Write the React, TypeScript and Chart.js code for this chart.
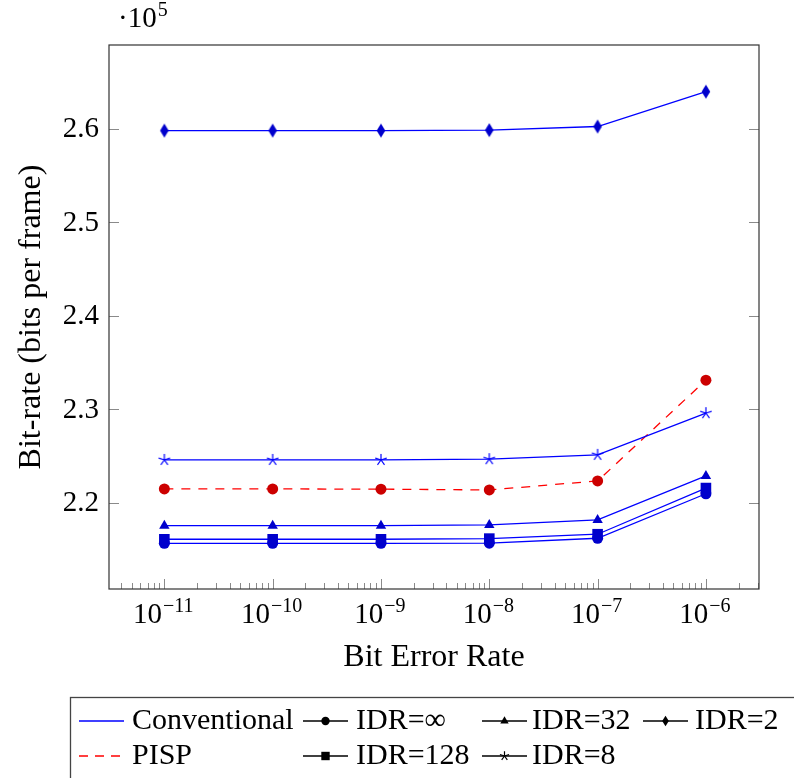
import React, { useEffect, useRef } from 'react';
import { Chart, registerables } from 'chart.js';

Chart.register(...registerables);

// ---------- data ----------
const ber = [1e-11, 1e-10, 1e-9, 1e-8, 1e-7, 1e-6];
const idrInf = [215650, 215650, 215650, 215660, 216190, 220950];
const idr128 = [216080, 216080, 216080, 216150, 216620, 221560];
const idr32 = [217540, 217540, 217540, 217610, 218150, 222860];
const idr8 = [224570, 224570, 224570, 224650, 225110, 229570];
const idr2 = [259800, 259800, 259800, 259850, 260240, 263970];
const pisp = [221470, 221470, 221440, 221360, 222320, 233100];

const xTickExponents = [-11, -10, -9, -8, -7, -6];
const xMinorMultipliers = [2, 3, 4, 5, 6, 7, 8, 9];
const yTickValues = [220000, 230000, 240000, 250000, 260000];
const yTickLabels = ['2.2', '2.3', '2.4', '2.5', '2.6'];
const yScaleExponent = '5';

const xTitle = 'Bit Error Rate';
const yTitle = 'Bit-rate (bits per frame)';

const legendRow1 = ['Conventional', 'IDR=∞', 'IDR=32', 'IDR=2'];
const legendRow2 = ['PISP', 'IDR=128', 'IDR=8'];

// ---------- styling ----------
const FONT = '"Liberation Serif", "Times New Roman", serif';
const BLUE = '#0000ff';
const BLUE_MARK = '#0000cc';
const RED = '#ff0000';
const RED_MARK = '#cc0000';

type Mark = 'circle' | 'rect' | 'triangle' | 'diamond' | 'star';

function drawMark(ctx: CanvasRenderingContext2D, type: Mark, x: number, y: number, color: string, s: number) {
  ctx.save();
  ctx.fillStyle = color;
  ctx.strokeStyle = color;
  ctx.lineWidth = 1;
  ctx.beginPath();
  if (type === 'circle') {
    ctx.arc(x, y, s, 0, Math.PI * 2);
    ctx.fill();
  } else if (type === 'rect') {
    ctx.rect(x - s, y - s, 2 * s, 2 * s);
    ctx.fill();
  } else if (type === 'triangle') {
    for (let i = 0; i < 3; i++) {
      const a = -Math.PI / 2 + (i * 2 * Math.PI) / 3;
      const px = x + s * 1.1 * Math.cos(a);
      const py = y + s * 1.1 * Math.sin(a);
      if (i === 0) ctx.moveTo(px, py); else ctx.lineTo(px, py);
    }
    ctx.closePath();
    ctx.fill();
  } else if (type === 'diamond') {
    ctx.moveTo(x, y - s * 1.15);
    ctx.lineTo(x + s * 0.72, y);
    ctx.lineTo(x, y + s * 1.15);
    ctx.lineTo(x - s * 0.72, y);
    ctx.closePath();
    ctx.fill();
  } else if (type === 'star') {
    ctx.lineWidth = 1.2;
    for (let i = 0; i < 5; i++) {
      const a = -Math.PI / 2 + (i * 2 * Math.PI) / 5;
      ctx.moveTo(x, y);
      ctx.lineTo(x + s * Math.cos(a), y + s * Math.sin(a));
    }
    ctx.stroke();
  }
  ctx.restore();
}

function markCanvas(type: Mark, color: string, s: number): HTMLCanvasElement {
  const size = Math.ceil(2 * s * 1.3 + 4);
  const c = document.createElement('canvas');
  c.width = size;
  c.height = size;
  const g = c.getContext('2d')!;
  drawMark(g, type, size / 2, size / 2, color, s);
  return c;
}

function drawSupText(ctx: CanvasRenderingContext2D, prefix: string, base: string, sup: string, x: number, y: number, align: 'center' | 'left') {
  ctx.save();
  ctx.textBaseline = 'alphabetic';
  ctx.textAlign = 'left';
  ctx.font = `29px ${FONT}`;
  const wPre = ctx.measureText(prefix).width;
  const wBase = ctx.measureText(base).width;
  ctx.font = `20px ${FONT}`;
  const wSup = ctx.measureText(sup).width;
  const total = wPre + wBase + 1 + wSup;
  const x0 = align === 'center' ? x - total / 2 : x;
  ctx.font = `29px ${FONT}`;
  ctx.fillText(prefix + base, x0, y);
  ctx.font = `20px ${FONT}`;
  ctx.fillText(sup, x0 + wPre + wBase + 1, y - 11);
  ctx.restore();
}

const decorPlugin = {
  id: 'decor',
  beforeDatasetsDraw(chart: any) {
    const ctx: CanvasRenderingContext2D = chart.ctx;
    const { left, right, top, bottom } = chart.chartArea;
    const xs = chart.scales.x;
    const ys = chart.scales.y;
    ctx.save();
    ctx.strokeStyle = '#8a8a8a';
    ctx.lineWidth = 1;
    ctx.beginPath();
    // x major ticks
    xTickExponents.forEach((e) => {
      const px = Math.round(xs.getPixelForValue(Math.pow(10, e))) + 0.5;
      ctx.moveTo(px, bottom);
      ctx.lineTo(px, bottom - 10);
    });
    // x minor ticks
    for (let e = xTickExponents[0] - 1; e <= xTickExponents[xTickExponents.length - 1]; e++) {
      xMinorMultipliers.forEach((m) => {
        const v = m * Math.pow(10, e);
        if (v < xs.min || v > xs.max) return;
        const px = Math.round(xs.getPixelForValue(v)) + 0.5;
        ctx.moveTo(px, bottom);
        ctx.lineTo(px, bottom - 6);
      });
    }
    // y ticks left and right
    yTickValues.forEach((v) => {
      const py = Math.round(ys.getPixelForValue(v)) + 0.5;
      ctx.moveTo(left, py);
      ctx.lineTo(left + 10, py);
      ctx.moveTo(right, py);
      ctx.lineTo(right - 10, py);
    });
    ctx.stroke();
    ctx.restore();
  },
  afterDraw(chart: any) {
    const ctx: CanvasRenderingContext2D = chart.ctx;
    const { left, right, top, bottom } = chart.chartArea;
    const xs = chart.scales.x;
    const ys = chart.scales.y;
    ctx.save();
    // frame
    ctx.strokeStyle = '#333333';
    ctx.lineWidth = 1.2;
    ctx.strokeRect(left, top, right - left, bottom - top);

    ctx.fillStyle = '#000000';
    // y tick labels
    ctx.font = `29px ${FONT}`;
    ctx.textAlign = 'right';
    ctx.textBaseline = 'middle';
    yTickValues.forEach((v, i) => {
      ctx.fillText(yTickLabels[i], left - 10, ys.getPixelForValue(v) + 1);
    });
    // x tick labels
    xTickExponents.forEach((e) => {
      const px = xs.getPixelForValue(Math.pow(10, e));
      drawSupText(ctx, '', '10', '−' + Math.abs(e), px - 1, bottom + 34, 'center');
    });
    // scale label
    drawSupText(ctx, '·', '10', yScaleExponent, left + 9, 27, 'left');

    // axis titles
    ctx.font = `32px ${FONT}`;
    ctx.textAlign = 'center';
    ctx.textBaseline = 'alphabetic';
    ctx.fillText(xTitle, (left + right) / 2, bottom + 77);
    ctx.save();
    ctx.translate(40, (top + bottom) / 2);
    ctx.rotate(-Math.PI / 2);
    ctx.fillText(yTitle, 0, 0);
    ctx.restore();

    // legend
    const boxL = 70.5;
    const boxT = 697.5;
    ctx.strokeStyle = '#444444';
    ctx.lineWidth = 1.3;
    ctx.strokeRect(boxL, boxT, 800, 200);

    const colLine = [79, 303, 482, 643];
    const colText = [132, 356, 532, 695];
    const rowBase = [729, 764];
    const rowMid = [721, 756];
    const row1Marks: (Mark | null)[] = [null, 'circle', 'triangle', 'diamond'];
    const row2Marks: (Mark | null)[] = [null, 'rect', 'star'];
    const markSizes: Record<string, number> = { circle: 4.2, rect: 4.2, triangle: 4.4, diamond: 4.6, star: 4.8 };

    const drawEntry = (col: number, row: number, label: string, mark: Mark | null) => {
      const y = rowMid[row];
      const x0 = colLine[col];
      const x1 = x0 + 45;
      ctx.save();
      ctx.lineWidth = 1.3;
      if (col === 0 && row === 0) {
        ctx.strokeStyle = BLUE;
      } else if (col === 0 && row === 1) {
        ctx.strokeStyle = RED;
        ctx.setLineDash([9, 7]);
      } else {
        ctx.strokeStyle = '#000000';
      }
      ctx.beginPath();
      ctx.moveTo(x0, y);
      ctx.lineTo(x1, y);
      ctx.stroke();
      ctx.restore();
      if (mark) drawMark(ctx, mark, (x0 + x1) / 2, y, '#000000', markSizes[mark]);
      ctx.fillStyle = '#000000';
      ctx.font = `30px ${FONT}`;
      ctx.textAlign = 'left';
      ctx.textBaseline = 'alphabetic';
      ctx.fillText(label, colText[col], rowBase[row]);
    };
    legendRow1.forEach((l, i) => drawEntry(i, 0, l, row1Marks[i]));
    legendRow2.forEach((l, i) => drawEntry(i, 1, l, row2Marks[i]));
    ctx.restore();
  },
};

export default function App() {
  const ref = useRef<HTMLCanvasElement | null>(null);
  useEffect(() => {
    document.body.style.margin = '0';
    const canvas = ref.current!;
    const pts = (vals: number[]) => vals.map((v, i) => ({ x: ber[i], y: v }));
    const starImg = markCanvas('star', BLUE, 6);
    const diamondImg = markCanvas('diamond', BLUE_MARK, 6);
    const base = {
      borderWidth: 1.3,
      tension: 0,
      pointBorderWidth: 0,
      fill: false,
    };
    const chart = new Chart(canvas, {
      type: 'line',
      data: {
        datasets: [
          { ...base, label: 'IDR=∞', data: pts(idrInf), borderColor: BLUE, backgroundColor: BLUE_MARK, pointBackgroundColor: BLUE_MARK, pointBorderColor: BLUE_MARK, pointStyle: 'circle', pointRadius: 5.5 },
          { ...base, label: 'IDR=128', data: pts(idr128), borderColor: BLUE, backgroundColor: BLUE_MARK, pointBackgroundColor: BLUE_MARK, pointBorderColor: BLUE_MARK, pointStyle: 'rect', pointRadius: 7.5 },
          { ...base, label: 'IDR=32', data: pts(idr32), borderColor: BLUE, backgroundColor: BLUE_MARK, pointBackgroundColor: BLUE_MARK, pointBorderColor: BLUE_MARK, pointStyle: 'triangle', pointRadius: 6 },
          { ...base, label: 'IDR=8', data: pts(idr8), borderColor: BLUE, backgroundColor: BLUE_MARK, pointStyle: starImg as any, pointRadius: 6 },
          { ...base, label: 'IDR=2', data: pts(idr2), borderColor: BLUE, backgroundColor: BLUE_MARK, pointStyle: diamondImg as any, pointRadius: 6 },
          { ...base, label: 'PISP', data: pts(pisp), borderColor: RED, borderDash: [9, 8], backgroundColor: RED_MARK, pointBackgroundColor: RED_MARK, pointBorderColor: RED_MARK, pointStyle: 'circle', pointRadius: 5.5 },
        ],
      },
      options: {
        responsive: false,
        animation: false,
        devicePixelRatio: 1,
        layout: { padding: { left: 109, right: 35, top: 45, bottom: 189 } },
        plugins: { legend: { display: false }, tooltip: { enabled: false } },
        scales: {
          x: { type: 'logarithmic', display: false, min: Math.pow(10, -11.511), max: Math.pow(10, -5.51) },
          y: { type: 'linear', display: false, min: 210760, max: 268960 },
        },
      },
      plugins: [decorPlugin],
    });
    return () => chart.destroy();
  }, []);
  return <canvas ref={ref} width={794} height={778} style={{ display: 'block', width: 794, height: 778 }} />;
}
